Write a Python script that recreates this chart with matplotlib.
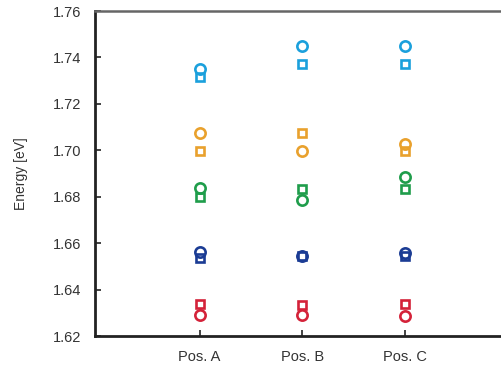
import matplotlib.pyplot as plt

plt.rcParams['font.family'] = ['Liberation Sans', 'DejaVu Sans']

positions = ['Pos. A', 'Pos. B', 'Pos. C']
x = [1, 2, 3]

# circle / square energies per state (eV)
colors = ['#1ba0dc', '#e9a12d', '#1f9d4b', '#1b3c94', '#d42239']
circles = [
    [1.7349, 1.7449, 1.7449],
    [1.7073, 1.6998, 1.7026],
    [1.6836, 1.6786, 1.6884],
    [1.6563, 1.6546, 1.6556],
    [1.6289, 1.6290, 1.6285],
]
squares = [
    [1.7317, 1.7372, 1.7372],
    [1.6998, 1.7073, 1.6996],
    [1.6800, 1.6832, 1.6832],
    [1.6537, 1.6546, 1.6546],
    [1.6336, 1.6334, 1.6336],
]

fig = plt.figure(figsize=(5.01, 3.77), dpi=100)
ax = fig.add_axes([95 / 501, 41 / 377, 409 / 501, 325 / 377])

for c, yc, ys in zip(colors, circles, squares):
    ax.plot(x, ys, 's', ms=5.4, mfc='white', mec=c, mew=1.9, ls='none')
    ax.plot(x, yc, 'o', ms=7.4, mfc='none', mec=c, mew=1.9, ls='none')

ax.set_xlim(-0.02, 3.97)
ax.set_ylim(1.62, 1.76)
ax.set_xticks(x)
ax.set_xticklabels(positions)
ax.set_yticks([1.62, 1.64, 1.66, 1.68, 1.70, 1.72, 1.74, 1.76])
ax.set_yticklabels([f'{v:.2f}' for v in ax.get_yticks()])
ax.tick_params(direction='in', length=4, width=1.2, colors='#222222',
               labelsize=10.5, labelcolor='#333333')
ax.tick_params(axis='y', pad=10)
ax.tick_params(axis='x', pad=10)
ax.set_ylabel('Energy [eV]', fontsize=10, color='#333333', labelpad=18)
for s in ['left', 'bottom']:
    ax.spines[s].set_linewidth(2)
    ax.spines[s].set_color('#222222')
ax.spines['top'].set_linewidth(1.8)
ax.spines['top'].set_color('#666666')
ax.spines['right'].set_visible(False)

fig.savefig('out.png', dpi=100)
